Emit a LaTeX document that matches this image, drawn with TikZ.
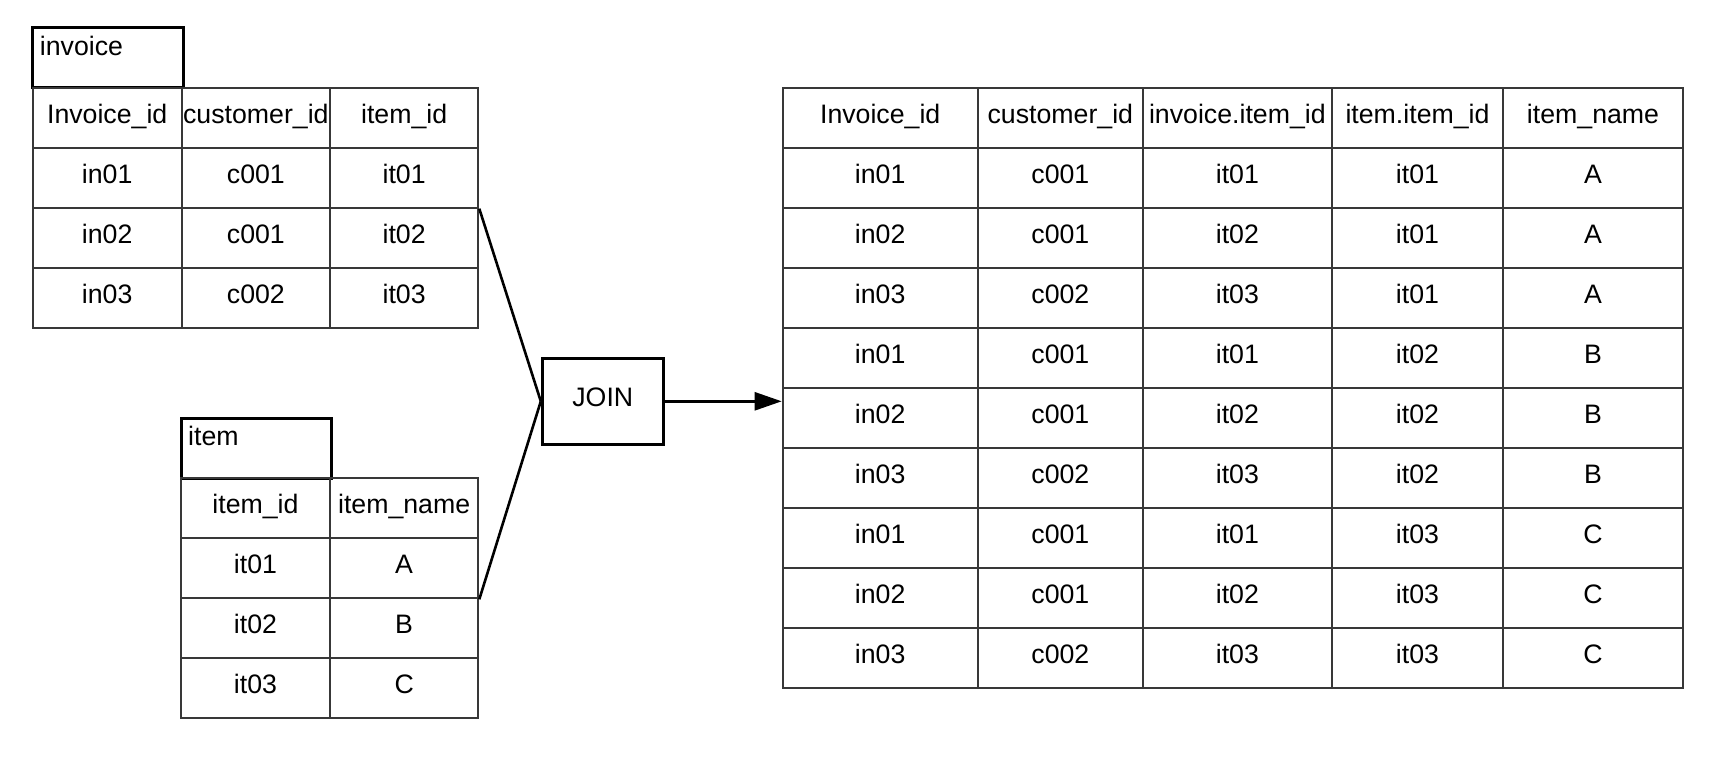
\documentclass[tikz,border=0pt]{standalone}
\usepackage{fontspec}
\setmainfont{Liberation Sans}
\usetikzlibrary{arrows.meta,calc}

\definecolor{gridgray}{HTML}{383838}
\newcommand\tabfont{\fontsize{26.7pt}{32pt}\selectfont}

% #1 name prefix, #2 column edges, #3 top edge, #4 rows of cell texts
\newcommand\maketable[4]{%
  \foreach \row [count=\r from 0] in {#4} {
    \foreach \txt [count=\c from 0] in \row {
      \pgfmathsetmacro\xl{{#2}[\c]}
      \pgfmathsetmacro\xr{{#2}[\c+1]}
      \node[cell, minimum width={\xr-\xl}] (#1-\r-\c)
        at ({(\xl+\xr)/2},{#3+60*\r+30}) {\txt};
    }
  }%
}

\begin{document}
\begin{tikzpicture}[x=1pt,y=-1pt,
  cell/.style={draw=gridgray, line width=2pt, inner sep=0pt,
    minimum height=60pt, text height=20pt, text depth=8.8pt, font=\tabfont},
  titlebox/.style={draw=black, line width=3pt, inner sep=0pt, minimum height=60pt},
  titletext/.style={anchor=base west, inner sep=0pt, font=\tabfont},
  joinbox/.style={draw=black, line width=3pt, inner sep=0pt,
    text height=20pt, text depth=8.8pt, font=\tabfont},
  link/.style={draw=black, line width=2.6pt}]

\useasboundingbox (0,0) rectangle (1730,766);

% invoice table
\node[titlebox, minimum width=150.6pt] (invtitle) at (108,57.8) {};
\node[titletext] (invtitle-text) at ($(invtitle.north west)+(8.5,29.3)$) {invoice};
\maketable{inv}{32.7,181.7,330,478.3}{87.7}{%
  {Invoice\_id,customer\_id,item\_id},
  {in01,c001,it01},
  {in02,c001,it02},
  {in03,c002,it03}}

% item table
\node[titlebox, minimum width=150.7pt] (itmtitle) at (256.35,448.3) {};
\node[titletext] (itmtitle-text) at ($(itmtitle.north west)+(8.5,28.6)$) {item};
\maketable{itm}{181,330,478.3}{478.3}{%
  {item\_id,item\_name},
  {it01,A},
  {it02,B},
  {it03,C}}

% joined result
\maketable{res}{782.7,977.7,1143,1331.7,1503.3,1682.7}{88}{%
  {Invoice\_id,customer\_id,invoice.item\_id,item.item\_id,item\_name},
  {in01,c001,it01,it01,A},
  {in02,c001,it02,it01,A},
  {in03,c002,it03,it01,A},
  {in01,c001,it01,it02,B},
  {in02,c001,it02,it02,B},
  {in03,c002,it03,it02,B},
  {in01,c001,it01,it03,C},
  {in02,c001,it02,it03,C},
  {in03,c002,it03,it03,C}}

% join operator
\node[joinbox, minimum width=121pt, minimum height=86pt] (join) at (602.8,401.3) {JOIN};

\draw[link] (inv-1-2.south east) -- (join.west);
\draw[link] (itm-1-1.south east) -- (join.west);
\draw[link, -{Triangle[length=27pt,width=18pt]}] (join.east) -- (join.east -| res-5-0.west);

\end{tikzpicture}
\end{document}
